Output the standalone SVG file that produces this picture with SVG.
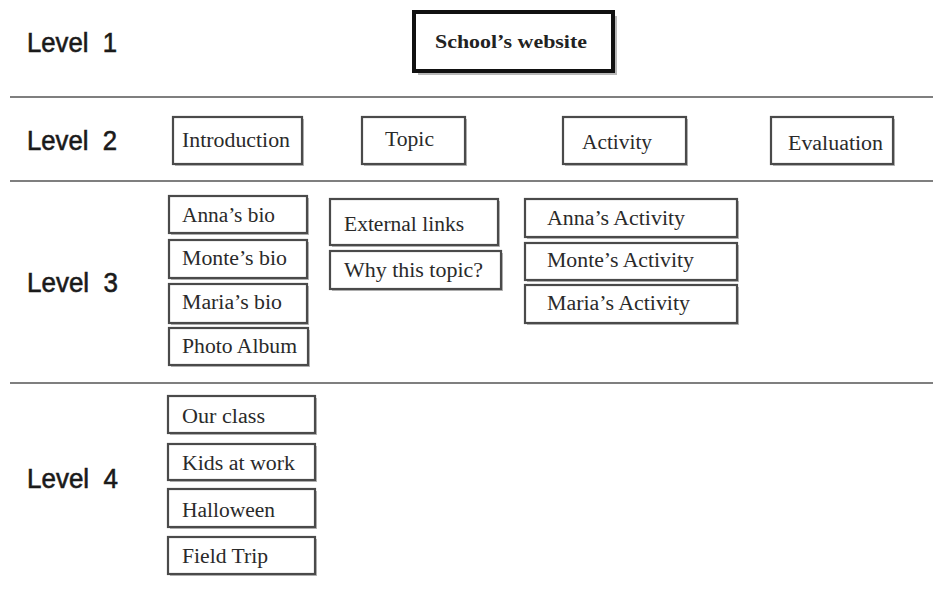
<svg xmlns="http://www.w3.org/2000/svg" width="933" height="590" viewBox="0 0 933 590">
<style>
.bg{fill:#ffffff}
.sep{stroke:#555;stroke-width:1.5;fill:none}
.lvl{font-family:"Liberation Sans",Arial,sans-serif;font-size:27px;fill:#1a1a1a;stroke:#1a1a1a;stroke-width:0.6}
.sh{fill:#b8b8b8}
.bx{fill:#ffffff;stroke:#4a4a4a;stroke-width:2.2}
.t{font-family:"Liberation Serif","Times New Roman",serif;font-size:20px;fill:#2a2a2a}
.root{fill:#ffffff;stroke:#111;stroke-width:4}
.rt{font-family:"Liberation Serif","Times New Roman",serif;font-size:19px;font-weight:bold;fill:#222}
</style>
<rect class="bg" x="0" y="0" width="933" height="590"/>
<g id="separators">
<line class="sep" x1="10" y1="97" x2="933" y2="97"/>
<line class="sep" x1="10" y1="181" x2="933" y2="181"/>
<line class="sep" x1="10" y1="383" x2="933" y2="383"/>
</g>
<g id="level-labels">
<text class="lvl" x="27" y="52" textLength="90" lengthAdjust="spacingAndGlyphs" xml:space="preserve">Level  1</text>
<text class="lvl" x="27" y="150" textLength="90" lengthAdjust="spacingAndGlyphs" xml:space="preserve">Level  2</text>
<text class="lvl" x="27" y="292" textLength="91" lengthAdjust="spacingAndGlyphs" xml:space="preserve">Level  3</text>
<text class="lvl" x="27" y="488" textLength="91" lengthAdjust="spacingAndGlyphs" xml:space="preserve">Level  4</text>
</g>
<g id="n-school">
<rect class="sh" x="418" y="16" width="199" height="59"/>
<rect class="root" x="414" y="12" width="199" height="59"/>
<text class="rt" x="435" y="48" textLength="152" lengthAdjust="spacingAndGlyphs">School’s website</text>
</g>
<g id="n-introduction">
<rect class="sh" x="175" y="119" width="129" height="47"/>
<rect class="bx" x="173" y="117" width="129" height="47"/>
<text class="t" x="182" y="147" textLength="108" lengthAdjust="spacingAndGlyphs">Introduction</text>
</g>
<g id="n-topic">
<rect class="sh" x="364" y="119" width="103" height="47"/>
<rect class="bx" x="362" y="117" width="103" height="47"/>
<text class="t" x="385" y="146" textLength="49" lengthAdjust="spacingAndGlyphs">Topic</text>
</g>
<g id="n-activity">
<rect class="sh" x="565" y="119" width="123" height="47"/>
<rect class="bx" x="563" y="117" width="123" height="47"/>
<text class="t" x="582" y="149" textLength="70" lengthAdjust="spacingAndGlyphs">Activity</text>
</g>
<g id="n-evaluation">
<rect class="sh" x="773" y="119" width="122" height="47"/>
<rect class="bx" x="771" y="117" width="122" height="47"/>
<text class="t" x="788" y="150" textLength="95" lengthAdjust="spacingAndGlyphs">Evaluation</text>
</g>
<g id="n-annas-bio">
<rect class="sh" x="171" y="198" width="138" height="37"/>
<rect class="bx" x="169" y="196" width="138" height="37"/>
<text class="t" x="182" y="222" textLength="93" lengthAdjust="spacingAndGlyphs">Anna’s bio</text>
</g>
<g id="n-montes-bio">
<rect class="sh" x="171" y="242" width="138" height="38"/>
<rect class="bx" x="169" y="240" width="138" height="38"/>
<text class="t" x="182" y="265" textLength="105" lengthAdjust="spacingAndGlyphs">Monte’s bio</text>
</g>
<g id="n-marias-bio">
<rect class="sh" x="171" y="286" width="138" height="39"/>
<rect class="bx" x="169" y="284" width="138" height="39"/>
<text class="t" x="182" y="309" textLength="100" lengthAdjust="spacingAndGlyphs">Maria’s bio</text>
</g>
<g id="n-photo-album">
<rect class="sh" x="171" y="330" width="139" height="37"/>
<rect class="bx" x="169" y="328" width="139" height="37"/>
<text class="t" x="182" y="353" textLength="115" lengthAdjust="spacingAndGlyphs">Photo Album</text>
</g>
<g id="n-external-links">
<rect class="sh" x="332" y="201" width="168" height="46"/>
<rect class="bx" x="330" y="199" width="168" height="46"/>
<text class="t" x="344" y="231" textLength="120" lengthAdjust="spacingAndGlyphs">External links</text>
</g>
<g id="n-why-topic">
<rect class="sh" x="332" y="253" width="171" height="38"/>
<rect class="bx" x="330" y="251" width="171" height="38"/>
<text class="t" x="344" y="277" textLength="139" lengthAdjust="spacingAndGlyphs">Why this topic?</text>
</g>
<g id="n-annas-activity">
<rect class="sh" x="527" y="201" width="212" height="38"/>
<rect class="bx" x="525" y="199" width="212" height="38"/>
<text class="t" x="547" y="225" textLength="138" lengthAdjust="spacingAndGlyphs">Anna’s Activity</text>
</g>
<g id="n-montes-activity">
<rect class="sh" x="527" y="245" width="212" height="37"/>
<rect class="bx" x="525" y="243" width="212" height="37"/>
<text class="t" x="547" y="267" textLength="147" lengthAdjust="spacingAndGlyphs">Monte’s Activity</text>
</g>
<g id="n-marias-activity">
<rect class="sh" x="527" y="287" width="212" height="38"/>
<rect class="bx" x="525" y="285" width="212" height="38"/>
<text class="t" x="547" y="310" textLength="143" lengthAdjust="spacingAndGlyphs">Maria’s Activity</text>
</g>
<g id="n-our-class">
<rect class="sh" x="170" y="398" width="147" height="37"/>
<rect class="bx" x="168" y="396" width="147" height="37"/>
<text class="t" x="182" y="423" textLength="83" lengthAdjust="spacingAndGlyphs">Our class</text>
</g>
<g id="n-kids-at-work">
<rect class="sh" x="170" y="446" width="147" height="36"/>
<rect class="bx" x="168" y="444" width="147" height="36"/>
<text class="t" x="182" y="470" textLength="113" lengthAdjust="spacingAndGlyphs">Kids at work</text>
</g>
<g id="n-halloween">
<rect class="sh" x="170" y="491" width="147" height="38"/>
<rect class="bx" x="168" y="489" width="147" height="38"/>
<text class="t" x="182" y="517" textLength="93" lengthAdjust="spacingAndGlyphs">Halloween</text>
</g>
<g id="n-field-trip">
<rect class="sh" x="170" y="539" width="147" height="37"/>
<rect class="bx" x="168" y="537" width="147" height="37"/>
<text class="t" x="182" y="563" textLength="86" lengthAdjust="spacingAndGlyphs">Field Trip</text>
</g>
</svg>
